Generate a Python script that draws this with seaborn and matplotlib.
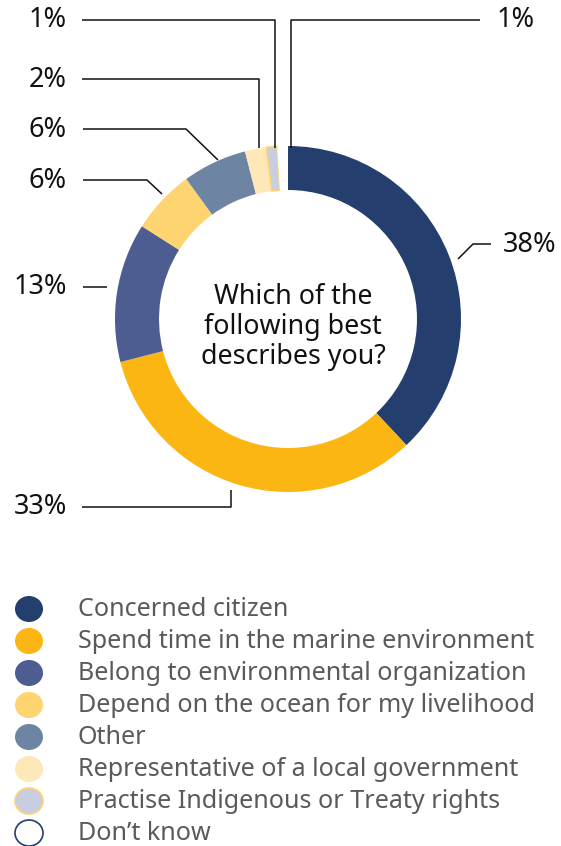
import matplotlib
matplotlib.use("Agg")
import matplotlib.pyplot as plt
from matplotlib.patches import Ellipse
import seaborn as sns

# Survey responses: "Which of the following best describes you?"
categories = [
    "Concerned citizen",
    "Spend time in the marine environment",
    "Belong to environmental organization",
    "Depend on the ocean for my livelihood",
    "Other",
    "Representative of a local government",
    "Practise Indigenous or Treaty rights",
    "Don\u2019t know",
]
shares = [38, 33, 13, 6, 6, 2, 1, 1]
pct_labels = ["38%", "33%", "13%", "6%", "6%", "2%", "1%", "1%"]

colors = sns.color_palette([
    "#243F6E", "#FCB614", "#4D5C91", "#FDD470",
    "#6E84A3", "#FEE8B8", "#C8CDE0", "#FFFFFF",
])
edge_colors = ["none", "none", "none", "none", "none", "none", "#FDD470", "none"]
legend_edges = ["none", "none", "none", "none", "none", "none", "#FDD470", "#243F6E"]

sns.set_theme(style="white")
plt.rcParams["font.family"] = ["Noto Sans", "DejaVu Sans"]

W, H = 561, 846
fig = plt.figure(figsize=(W / 100, H / 100), dpi=100)
ax = fig.add_axes([0, 0, 1, 1])

# Donut (pixel-style coordinates, y pointing down, so counterclock=True reads clockwise)
cx, cy, R = 288, 319, 173
wedges, _ = ax.pie(
    shares, colors=colors, startangle=-90, counterclock=True,
    center=(cx, cy), radius=R,
    wedgeprops=dict(width=44, linewidth=0),
)
for w, ec in zip(wedges, edge_colors):
    if ec != "none":
        w.set_edgecolor(ec)
        w.set_linewidth(1.2)

ax.set_xlim(0, W)
ax.set_ylim(H, 0)
ax.set_aspect("equal")
ax.axis("off")

ax.text(293, 327, "Which of the\nfollowing best\ndescribes you?", ha="center",
        va="center", fontsize=19.3, color="#111111", linespacing=1.1)

# Leader lines and percentage labels
leaders = [
    ([(458, 259), (473, 244), (491, 244)], (503, 245), "left"),
    ([(82, 507), (231, 507), (231, 490)], (67, 507), "right"),
    ([(83, 287), (107, 287)], (67, 287), "right"),
    ([(83, 180), (147, 180), (162, 194)], (67, 181), "right"),
    ([(83, 129), (186, 129), (218, 160)], (67, 130), "right"),
    ([(82, 79), (259, 79), (259, 148)], (67, 80), "right"),
    ([(82, 20), (275, 20), (275, 148)], (67, 20), "right"),
    ([(291, 148), (291, 20), (480, 20)], (497, 20), "left"),
]
for (pts, (tx, ty), ha), lab in zip(leaders, pct_labels):
    xs, ys = zip(*pts)
    ax.plot(xs, ys, color="#111111", lw=1.1, solid_capstyle="butt")
    ax.text(tx, ty, lab, ha=ha, va="center", fontsize=19.5, color="#111111")

# Legend
row0, step = 609, 32
for i, (cat, col, ec) in enumerate(zip(categories, colors, legend_edges)):
    y = row0 + i * step
    ax.add_patch(Ellipse((29, y), 28, 26, facecolor=col,
                         edgecolor=ec if ec != "none" else col,
                         linewidth=1.2 if ec != "none" else 0))
    ax.text(78, y, cat, ha="left", va="center", fontsize=18.1, color="#5A5A5A")

fig.savefig("out.png", dpi=100)
